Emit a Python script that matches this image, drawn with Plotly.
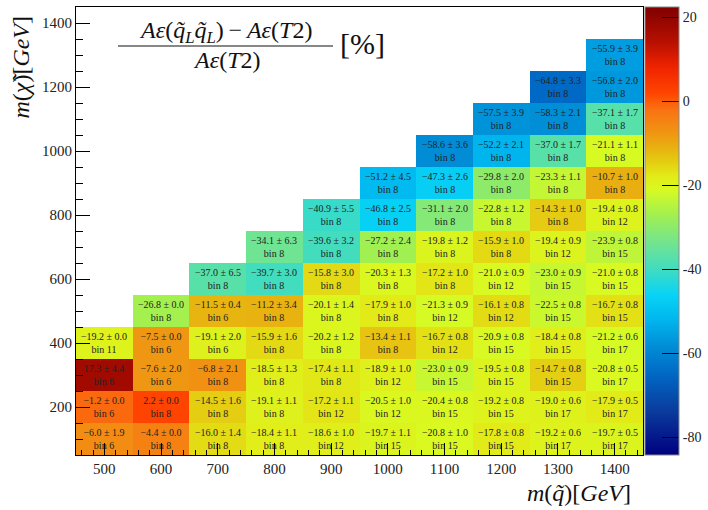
import plotly.graph_objects as go

x_mass = [500, 600, 700, 800, 900, 1000, 1100, 1200, 1300, 1400]
y_mass = [100, 200, 300, 400, 500, 600, 700, 800, 900, 1000, 1100, 1200, 1300]

N = None
# rows: y = 100 ... 1300 ; columns: x = 500 ... 1400
values = [
    [-6.0, -4.4, -16.0, -18.4, -18.6, -19.7, -20.8, -17.8, -19.2, -19.7],
    [-1.2, 2.2, -14.5, -19.1, -17.2, -20.5, -20.4, -19.2, -19.0, -17.9],
    [17.3, -7.6, -6.8, -18.5, -17.4, -18.9, -23.0, -19.5, -14.7, -20.8],
    [-19.2, -7.5, -19.1, -15.9, -20.2, -13.4, -16.7, -20.9, -18.4, -21.2],
    [N, -26.8, -11.5, -11.2, -20.1, -17.9, -21.3, -16.1, -22.5, -16.7],
    [N, N, -37.0, -39.7, -15.8, -20.3, -17.2, -21.0, -23.0, -21.0],
    [N, N, N, -34.1, -39.6, -27.2, -19.8, -15.9, -19.4, -23.9],
    [N, N, N, N, -40.9, -46.8, -31.1, -22.8, -14.3, -19.4],
    [N, N, N, N, N, -51.2, -47.3, -29.8, -23.3, -10.7],
    [N, N, N, N, N, N, -58.6, -52.2, -37.0, -21.1],
    [N, N, N, N, N, N, N, -57.5, -58.3, -37.1],
    [N, N, N, N, N, N, N, N, -64.8, -56.8],
    [N, N, N, N, N, N, N, N, N, -55.9],
]
errors = [
    [1.9, 0.0, 1.4, 1.1, 1.0, 1.1, 1.0, 0.8, 0.6, 0.5],
    [0.0, 0.0, 1.6, 1.1, 1.1, 1.0, 0.8, 0.8, 0.6, 0.5],
    [4.4, 2.0, 2.1, 1.3, 1.1, 1.0, 0.9, 0.8, 0.8, 0.5],
    [0.0, 0.0, 2.0, 1.6, 1.2, 1.1, 0.8, 0.8, 0.8, 0.6],
    [N, 0.0, 0.4, 3.4, 1.4, 1.0, 0.9, 0.8, 0.8, 0.8],
    [N, N, 6.5, 3.0, 3.0, 1.3, 1.0, 0.9, 0.9, 0.8],
    [N, N, N, 6.3, 3.2, 2.4, 1.2, 1.0, 0.9, 0.8],
    [N, N, N, N, 5.5, 2.5, 2.0, 1.2, 1.0, 0.8],
    [N, N, N, N, N, 4.5, 2.6, 2.0, 1.1, 1.0],
    [N, N, N, N, N, N, 3.6, 2.1, 1.7, 1.1],
    [N, N, N, N, N, N, N, 3.9, 2.1, 1.7],
    [N, N, N, N, N, N, N, N, 3.3, 2.0],
    [N, N, N, N, N, N, N, N, N, 3.9],
]
bins = [
    [6, 8, 8, 8, 12, 15, 15, 15, 17, 17],
    [6, 8, 8, 8, 12, 12, 15, 15, 17, 17],
    [6, 6, 8, 8, 8, 12, 15, 15, 15, 17],
    [11, 6, 6, 8, 8, 8, 12, 15, 15, 17],
    [N, 8, 6, 8, 8, 8, 12, 12, 15, 15],
    [N, N, 8, 8, 8, 8, 8, 12, 15, 15],
    [N, N, N, 8, 8, 8, 8, 8, 12, 15],
    [N, N, N, N, 8, 8, 8, 8, 8, 12],
    [N, N, N, N, N, 8, 8, 8, 8, 8],
    [N, N, N, N, N, N, 8, 8, 8, 8],
    [N, N, N, N, N, N, N, 8, 8, 8],
    [N, N, N, N, N, N, N, N, 8, 8],
    [N, N, N, N, N, N, N, N, N, 8],
]
y_ticks = [200, 400, 600, 800, 1000, 1200, 1400]
cbar_ticks = [20, 0, -20, -40, -60, -80]

def fmt(v):
    s = f"{abs(v):.1f}"
    return ("\u2212" + s) if v < 0 else s

texts = []
for r in range(len(y_mass)):
    row = []
    for c in range(len(x_mass)):
        v = values[r][c]
        if v is None:
            row.append("")
        else:
            row.append(f"{fmt(v)} \u00b1 {errors[r][c]:.1f}<br>bin {bins[r][c]}")
    texts.append(row)

zmin, zmax = -84.24, 22.49
stops = [
    (-84.24, "#000080"),
    (-74, "#0a3a9c"),
    (-65, "#0068c4"),
    (-58, "#0090d8"),
    (-52, "#00b6ee"),
    (-46, "#08d4f6"),
    (-40, "#40dcc0"),
    (-34, "#70e492"),
    (-27, "#a2f050"),
    (-21, "#d8fa22"),
    (-18, "#e2ec18"),
    (-15, "#e4d212"),
    (-11, "#e8b010"),
    (-7, "#f09212"),
    (-2, "#fa7212"),
    (2, "#ff4400"),
    (8, "#f02400"),
    (14, "#b81000"),
    (22.49, "#800000"),
]
colorscale = [[(z - zmin) / (zmax - zmin), col] for z, col in stops]

serif = "Liberation Serif, DejaVu Serif, serif"

# pixel geometry helpers (paper spans x 76..708, y 7..455)
L, T, PW, PH = 76, 7, 632, 448
def px(x):
    return (x - L) / PW
def py(y):
    return 1 - (y - T) / PH

fig = go.Figure(go.Heatmap(
    x=x_mass, y=y_mass, z=values, text=texts,
    texttemplate="%{text}", textfont=dict(family=serif, size=10, color="#222"),
    colorscale=colorscale, zmin=zmin, zmax=zmax, hoverongaps=False,
    colorbar=dict(
        x=px(645), xanchor="left", y=0.5, yanchor="middle", len=1.0,
        thickness=34, outlinewidth=1, outlinecolor="#888", xpad=0, ypad=0,
        tickvals=cbar_ticks, ticktext=[str(t) for t in cbar_ticks],
        ticks="inside", ticklen=17, tickcolor="black",
        tickfont=dict(family=serif, size=14, color="#222"),
    ),
))

fig.update_layout(
    width=708, height=510,
    margin=dict(l=L, r=0, t=T, b=510 - T - PH, autoexpand=False),
    paper_bgcolor="white", plot_bgcolor="white",
    font=dict(family=serif, color="#111"),
    xaxis=dict(
        domain=[0, (643 - L) / PW],
        range=[450, 1450], tickvals=x_mass, ticks="inside", ticklen=12,
        tickcolor="black", showgrid=False, zeroline=False,
        showline=True, linecolor="black", linewidth=1, mirror=True,
        tickfont=dict(family=serif, size=15, color="#222"),
        minor=dict(dtick=20, tick0=0, ticks="inside", ticklen=5, tickcolor="black"),
    ),
    yaxis=dict(
        range=[50, 1450], tickvals=y_ticks,
        ticks="inside", ticklen=14, tickcolor="black", showgrid=False,
        zeroline=False, showline=True, linecolor="black", linewidth=1,
        mirror=True, tickfont=dict(family=serif, size=15, color="#222"),
        minor=dict(dtick=50, tick0=0, ticks="inside", ticklen=7, tickcolor="black"),
    ),
)

thin = "\u2009"
# title fraction
fig.add_annotation(xref="paper", yref="paper", x=px(225), y=py(32),
                   text=f"<i>A\u03b5</i>(<i>q\u0303<sub>L</sub>q\u0303<sub>L</sub></i>){thin}\u2212{thin}<i>A\u03b5</i>(<i>T</i>2)",
                   showarrow=False, font=dict(family=serif, size=24, color="#111"),
                   xanchor="center", yanchor="middle")
fig.add_annotation(xref="paper", yref="paper", x=px(226), y=py(60),
                   text="<i>A\u03b5</i>(<i>T</i>2)",
                   showarrow=False, font=dict(family=serif, size=24, color="#111"),
                   xanchor="center", yanchor="middle")
fig.add_shape(type="line", xref="paper", yref="paper",
              x0=px(118), x1=px(333), y0=py(46), y1=py(46),
              line=dict(color="#111", width=1.2))
fig.add_annotation(xref="paper", yref="paper", x=px(338), y=py(44),
                   text="[%]", showarrow=False,
                   font=dict(family=serif, size=30, color="#111"),
                   xanchor="left", yanchor="middle")

# axis titles
fig.add_annotation(xref="paper", yref="paper", x=px(21), y=py(13),
                   text="<i>m</i>(<i>\u03c7\u0303</i>)[<i>GeV</i>]", textangle=-90,
                   showarrow=False, font=dict(family=serif, size=24, color="#111"),
                   xanchor="center", yanchor="top")
fig.add_annotation(xref="paper", yref="paper", x=px(633), y=py(493),
                   text="<i>m</i>(<i>q\u0303</i>)[<i>GeV</i>]",
                   showarrow=False, font=dict(family=serif, size=24, color="#111"),
                   xanchor="right", yanchor="middle")

fig.write_html("out.html")
